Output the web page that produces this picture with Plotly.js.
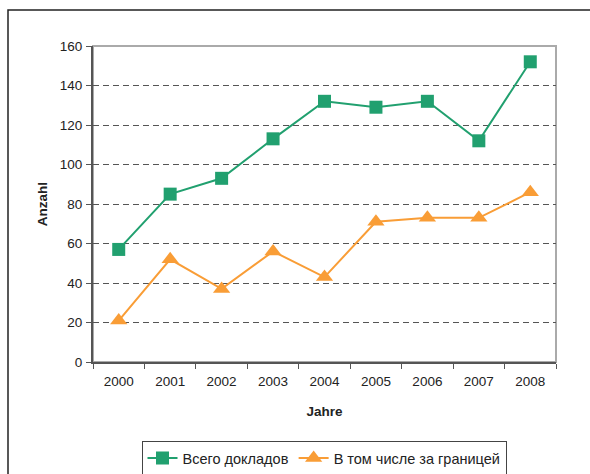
<!DOCTYPE html>
<html><head><meta charset="utf-8">
<script src="https://cdn.plot.ly/plotly-3.0.1.min.js"></script>
<style>html,body{margin:0;padding:0;background:#fff}#chart{width:590px;height:474px}</style>
</head><body><div id="chart"></div>
<script>
var years = ['2000','2001','2002','2003','2004','2005','2006','2007','2008'];
var totalReports = [57, 85, 93, 113, 132, 129, 132, 112, 152];
var abroadReports = [21, 52, 37, 56, 43, 71, 73, 73, 86];
var seriesNames = ['Всего докладов', 'В том числе за границей'];

var green = '#21a06f', orange = '#f99d36';
var traces = [
  {x: years, y: totalReports, name: seriesNames[0], type: 'scatter', mode: 'lines+markers',
   line: {color: green, width: 2}, marker: {symbol: 'square', size: 13, color: green}},
  {x: years, y: abroadReports, name: seriesNames[1], type: 'scatter', mode: 'lines+markers',
   line: {color: orange, width: 2}, marker: {symbol: 'triangle-up', size: 15, color: orange}}
];
var L = 93, R = 556, T = 46, B = 362, W = 590, H = 474;
var pw = R - L, ph = B - T;
var fs = 13.5;
var layout = {
  width: W, height: H,
  margin: {l: L, r: W - R, t: T, b: H - B, pad: 0, autoexpand: false},
  paper_bgcolor: '#fff', plot_bgcolor: '#fff',
  font: {family: 'Liberation Sans, Arial, sans-serif', size: fs, color: '#222'},
  showlegend: true,
  legend: {orientation: 'h', x: (324 - 0) / W, xanchor: 'center', xref: 'container',
    y: (H - 441) / H, yanchor: 'top', yref: 'container',
    bordercolor: '#444', borderwidth: 1, bgcolor: '#fff', font: {size: 14.5, color: '#222'},
    tracegroupgap: 0},
  xaxis: {type: 'category', range: [-0.5, 8.5], tickson: 'boundaries', ticks: 'outside', ticklen: 5,
    tickcolor: '#555', showline: true, linecolor: '#555', linewidth: 2, mirror: false,
    showgrid: false, zeroline: false, fixedrange: true, ticklabelstandoff: 6,
    title: {text: '<b>Jahre</b>', font: {size: fs, color: '#222'}, standoff: 18}},
  yaxis: {range: [0, 160], dtick: 20, ticks: 'outside', ticklen: 5, tickcolor: '#555',
    showline: true, linecolor: '#555', linewidth: 2, showgrid: true, gridcolor: '#555',
    griddash: '6px,4px', gridwidth: 1, zeroline: false, ticklabelstandoff: 1,
    title: {text: '<b>Anzahl</b>', font: {size: fs, color: '#222'}, standoff: 9}},
  shapes: [
    {type: 'rect', xref: 'paper', yref: 'paper', x0: 0, x1: 1, y0: 0, y1: 1,
     line: {color: '#aaa', width: 2}, layer: 'below'},
    {type: 'rect', xref: 'paper', yref: 'paper',
     x0: (8 - L) / pw, x1: (W + 10 - L) / pw, y0: (B - (H + 10)) / ph, y1: (B - 10) / ph,
     line: {color: '#222', width: 1.5}, layer: 'below'}
  ]
};
Plotly.newPlot('chart', traces, layout, {displayModeBar: false, staticPlot: true});
</script></body></html>
